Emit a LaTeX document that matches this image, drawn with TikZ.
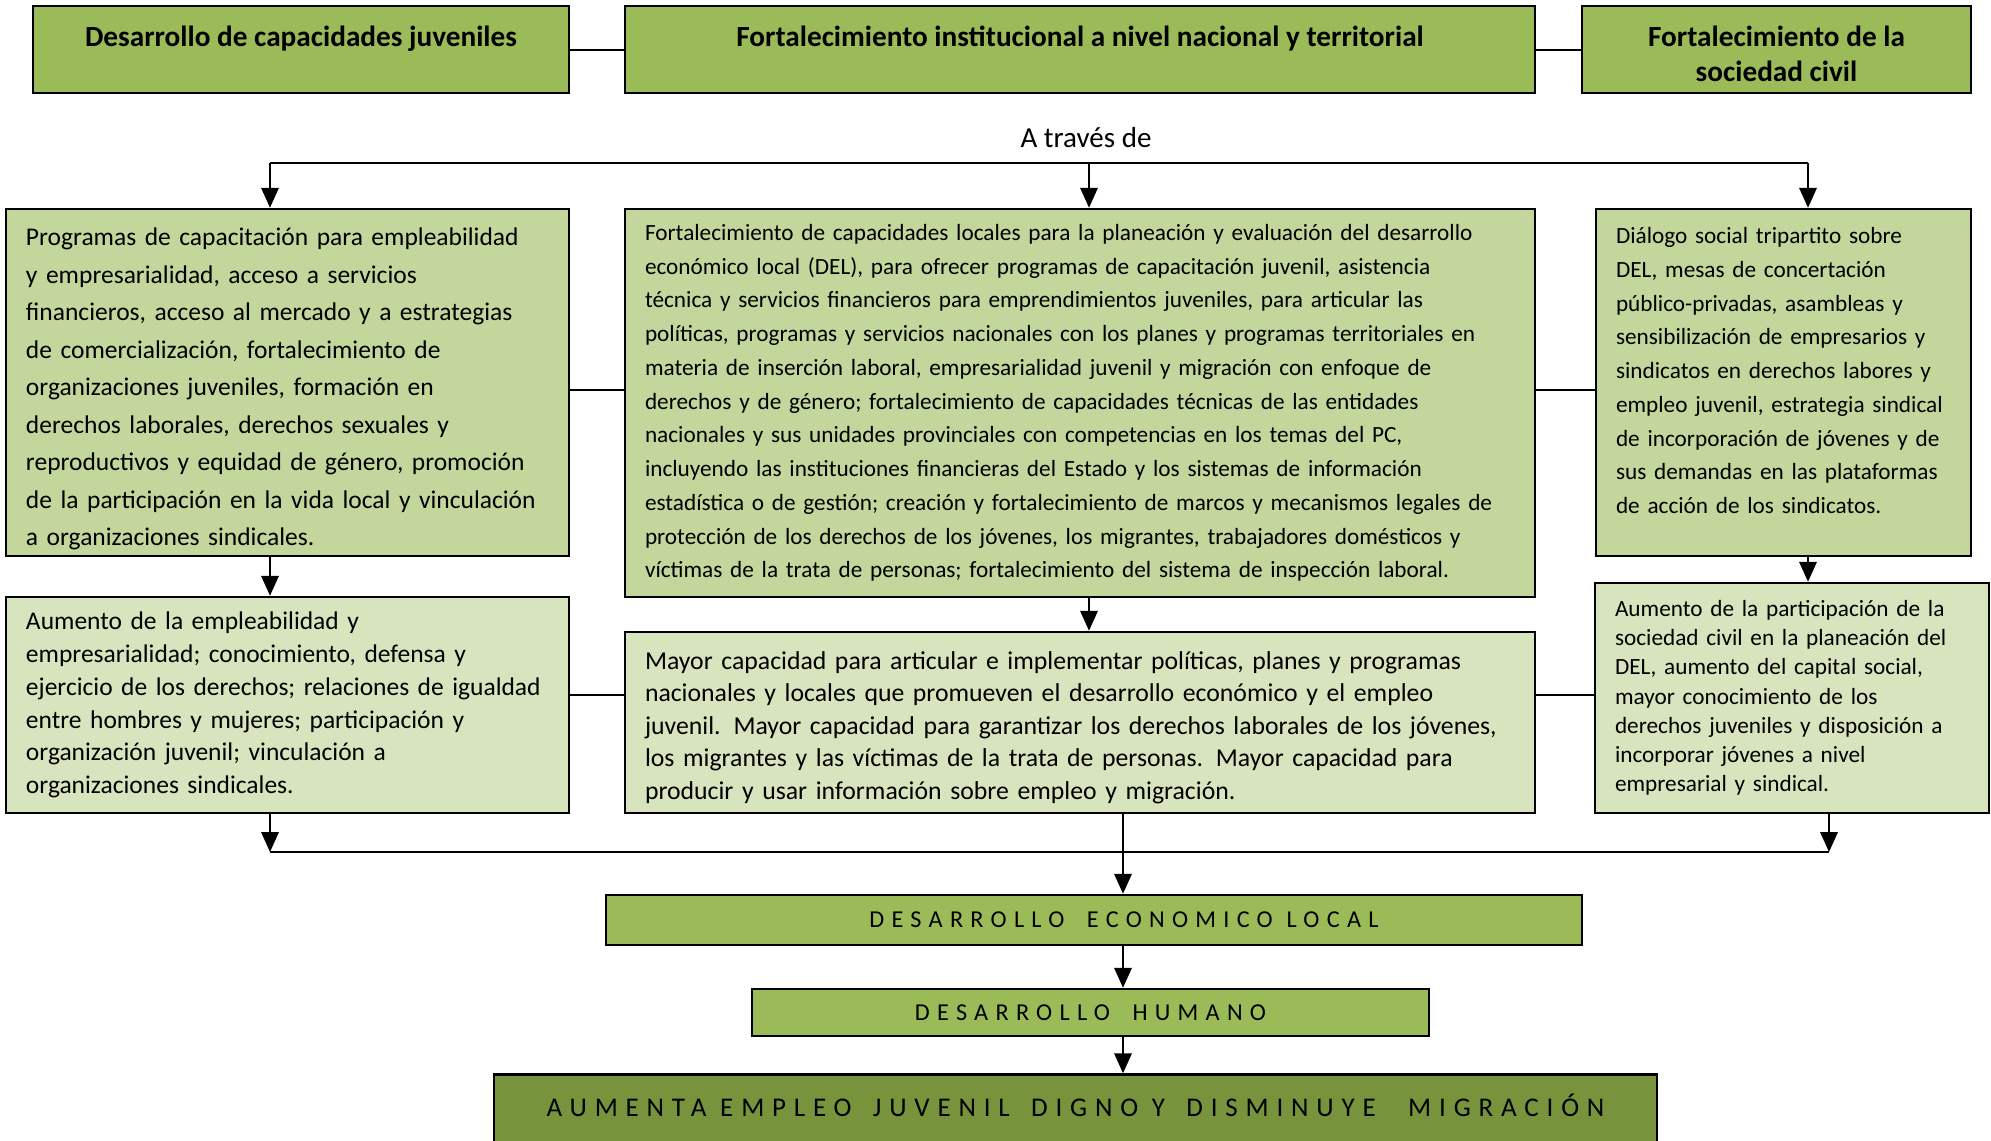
\documentclass[tikz,border=0pt]{standalone}
\usepackage{fontspec}
\setmainfont{Carlito}
\newfontfamily\spacedfont[LetterSpace=30]{Carlito}
\newfontfamily\goalfont[LetterSpace=29]{Carlito}
\usetikzlibrary{arrows.meta}
\definecolor{oliveA}{HTML}{9BBB59}
\definecolor{oliveB}{HTML}{C3D69B}
\definecolor{oliveC}{HTML}{D7E4BD}
\definecolor{oliveD}{HTML}{77933C}
\begin{document}
\begin{tikzpicture}[x=0.4pt, y=-0.4pt, line width=0.8pt,
  box/.style={draw=black, line width=1pt, inner xsep=8pt, inner ysep=0pt, align=left},
  head/.style={box, fill=oliveA, align=center, minimum height=34.8pt, font=\bfseries\fontsize{11.7}{14}\selectfont},
  goal/.style={draw=black, line width=1pt, fill=oliveA, font=\spacedfont\fontsize{9.7}{12}\selectfont},
  arr/.style={-{Triangle[width=7pt,length=8pt]}}]
\useasboundingbox (0,0) rectangle (1991,1140);

\node[head, minimum width=214.4pt] (A) at (301,49.5) {\rule{0pt}{11.5pt}Desarrollo de capacidades juveniles\\ \mbox{}};
\node[head, minimum width=364pt] (B) at (1080,49.5) {\rule{0pt}{11.5pt}Fortalecimiento institucional a nivel nacional y territorial\\ \mbox{}};
\node[head, minimum width=155.6pt] (C) at (1776.5,49.5) {\rule{0pt}{11.5pt}Fortalecimiento de la\\sociedad civil};
\node[font=\fontsize{11.6}{14}\selectfont] (via) at (1086,138) {A través de};

\node[box, fill=oliveB, minimum width=225.2pt, minimum height=138.8pt, text width=209.2pt, font=\fontsize{10.2}{15}\selectfont] (L1) at (287.5,382.5) {\rule{0pt}{12.5pt}Programas de capacitación para empleabilidad\\
y empresarialidad, acceso a servicios\\
financieros, acceso al mercado y a estrategias\\
de comercialización, fortalecimiento de\\
organizaciones juveniles, formación en\\
derechos laborales, derechos sexuales y\\
reproductivos y equidad de género, promoción\\
de la participación en la vida local y vinculación\\
a organizaciones sindicales.};
\node[box, fill=oliveB, minimum width=364pt, minimum height=155.2pt, text width=348pt, font=\fontsize{9.3}{13.5}\selectfont] (M1) at (1080,403) {Fortalecimiento de capacidades locales para la planeación y evaluación del desarrollo\\
económico local (DEL),  para ofrecer programas de capacitación juvenil, asistencia\\
técnica y servicios financieros para emprendimientos juveniles, para articular las\\
políticas, programas y servicios nacionales con los planes y programas territoriales en\\
materia de inserción laboral, empresarialidad juvenil y migración con enfoque de\\
derechos y de género; fortalecimiento de capacidades técnicas de las entidades\\
nacionales y sus unidades provinciales con competencias en los temas del PC,\\
incluyendo las instituciones financieras del Estado y los sistemas de información\\
estadística o de gestión; creación y fortalecimiento de marcos y mecanismos legales de\\
protección  de los derechos de los jóvenes, los migrantes, trabajadores domésticos y\\
víctimas de la trata de personas; fortalecimiento del sistema de inspección laboral.};
\node[box, fill=oliveB, minimum width=150pt, minimum height=138.8pt, text width=134pt, font=\fontsize{9.3}{13.5}\selectfont] (R1) at (1783.5,382.5) {Diálogo social tripartito sobre\\
DEL, mesas de concertación\\
público-privadas,  asambleas y\\
sensibilización de empresarios y\\
sindicatos en derechos labores y\\
empleo juvenil, estrategia sindical\\
de incorporación de jóvenes  y de\\
sus demandas en las plataformas\\
de acción de los sindicatos.\par\vspace{-4pt}\null};

\node[box, fill=oliveC, minimum width=225.2pt, minimum height=86.4pt, text width=209.2pt, font=\fontsize{10.2}{13.1}\selectfont] (L2) at (287.5,705) {Aumento de la empleabilidad y\\
empresarialidad;  conocimiento, defensa y\\
ejercicio de los derechos; relaciones de igualdad\\
entre hombres y mujeres;  participación y\\
organización juvenil; vinculación a\\
organizaciones sindicales.};
\node[box, fill=oliveC, minimum width=364pt, minimum height=72.4pt, text width=348pt, font=\fontsize{10.3}{13}\selectfont] (M2) at (1080,722.5) {\rule{0pt}{11.1pt}Mayor capacidad para articular e implementar políticas, planes y programas\\
nacionales y locales que promueven el desarrollo económico y el empleo\\
juvenil. Mayor capacidad para garantizar los derechos laborales de los jóvenes,\\
los migrantes y las víctimas de la trata de personas.  Mayor capacidad  para\\
producir y usar información sobre empleo y migración.};
\node[box, fill=oliveC, minimum width=157.6pt, minimum height=92pt, text width=141.6pt, font=\fontsize{9.3}{11.7}\selectfont] (R2) at (1792,698) {Aumento de la participación de la\\
sociedad civil en la planeación del\\
DEL, aumento del capital social,\\
mayor conocimiento de los\\
derechos juveniles y disposición a\\
incorporar jóvenes a nivel\\
empresarial y sindical.};

\node[goal, minimum width=390.4pt, minimum height=20pt] (DEL) at (1094,920) {\hspace*{24pt}DESARROLLO\hspace{9pt}ECONOMICO\hspace{5.5pt}LOCAL};
\node[goal, minimum width=270.8pt, minimum height=18.8pt] (DH) at (1090.5,1012.5) {DESARROLLO\hspace{9pt}HUMANO};
\node[goal, fill=oliveD, minimum width=465.2pt, minimum height=30pt, font=\goalfont\fontsize{10.8}{13}\selectfont] (FIN) at (1075.5,1112) {\raisebox{5.6pt}{AUMENTA\hspace{5.5pt}EMPLEO\hspace{8.5pt}JUVENIL\hspace{8.5pt}DIGNO\hspace{5.5pt}Y\hspace{8.5pt}DISMINUYE\hspace{13pt}MIGRACIÓN}};

\draw (A) -- (B);
\draw (B) -- (C);
\coordinate (tl) at (270,163);
\coordinate (tm) at (1089,163);
\coordinate (tr) at (1808,163);
\draw (tl) -- (tr);
\foreach \c/\n in {tl/L1, tm/M1, tr/R1}
  \draw[arr] (\c) -- (\c |- \n.north);
\draw (L1.east |- 0,390) -- (M1.west |- 0,390);
\draw (M1.east |- 0,390) -- (R1.west |- 0,390);
\draw[arr] (L1.south -| tl) -- (L2.north -| tl);
\draw[arr] (M1.south -| tm) -- (M2.north -| tm);
\draw[arr] (R1.south -| tr) -- (R2.north -| tr);
\draw (L2.east |- 0,695) -- (M2.west |- 0,695);
\draw (M2.east |- 0,695) -- (R2.west |- 0,695);

\coordinate (bl) at (270,852);
\coordinate (bm) at (1123,852);
\coordinate (br) at (1829,852);
\draw (bl) -- (br);
\draw[arr] (L2.south -| bl) -- (bl);
\draw[arr] (R2.south -| br) -- (br);
\draw[arr] (M2.south -| bm) -- (DEL.north -| bm);
\draw[arr] (DEL.south -| bm) -- (DH.north -| bm);
\draw[arr] (DH.south -| bm) -- (FIN.north -| bm);
\end{tikzpicture}
\end{document}
